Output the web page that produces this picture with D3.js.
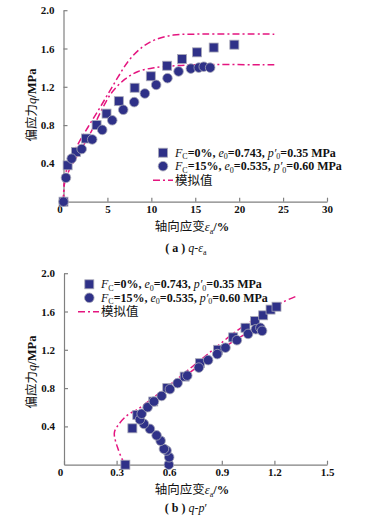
<!DOCTYPE html>
<html>
<head>
<meta charset="utf-8">
<title>q-εa and q-p′</title>
<style>
  body { margin: 0; background: #fff; }
  svg text { font-family: 'Liberation Serif', 'Times New Roman', serif; }
  .cjk { font-family: 'Noto Sans CJK SC', sans-serif; }
  .axis path, .axis line { stroke: #808080; stroke-width: 1.2; }
  .axis text { font-size: 11px; font-weight: bold; fill: #111; }
</style>
<script src="https://cdnjs.cloudflare.com/ajax/libs/d3/7.8.5/d3.min.js"></script>
</head>
<body>
<div id="chart"></div>
<script>
// (a) q - axial strain, test points [strain %, q MPa]
const strainFc0 = [[0,0],[0.47,0.38],[1.42,0.52],[2.56,0.66],[3.77,0.80],[4.9,0.92],[6.3,1.05],[8.1,1.19],[9.94,1.31],[11.8,1.42],[13.5,1.49],[15.2,1.56],[17.1,1.61],[19.45,1.64]];
const strainFc15 = [[0,0],[0.28,0.25],[0.93,0.45],[2.07,0.55],[3.27,0.65],[4.41,0.75],[5.55,0.85],[6.8,0.96],[8.05,1.04],[9.26,1.13],[10.55,1.22],[11.84,1.29],[13.1,1.36],[14.5,1.39],[15.4,1.40],[15.97,1.41],[16.7,1.40]];
const strainSim0 = [[0,0],[0.1,0.2],[0.5,0.38],[1.7,0.61],[2.8,0.78],[4.0,0.96],[5.1,1.13],[6.2,1.30],[7.4,1.47],[8.9,1.61],[10.4,1.69],[12.5,1.74],[15,1.75],[24,1.75]];
const strainSim15 = [[0,0],[0.1,0.18],[0.7,0.34],[2.1,0.56],[3.2,0.74],[4.3,0.95],[5.5,1.14],[7.0,1.28],[8.5,1.36],[10.4,1.40],[12.7,1.42],[15,1.43],[24,1.43]];

// (b) q - p', test points [p' MPa, q MPa]
const pathFc0 = [[0.35,0],[0.39,0.38],[0.418,0.52],[0.509,0.66],[0.589,0.80],[0.688,0.92],[0.775,1.06],[0.879,1.20],[0.965,1.33],[1.035,1.43],[1.09,1.50],[1.136,1.56],[1.178,1.62],[1.212,1.65]];
const pathFc15 = [[0.598,0],[0.60,0.078],[0.585,0.148],[0.57,0.165],[0.551,0.25],[0.528,0.306],[0.49,0.374],[0.456,0.426],[0.433,0.472],[0.443,0.532],[0.477,0.60],[0.513,0.66],[0.557,0.718],[0.604,0.789],[0.648,0.852],[0.703,0.93],[0.769,1.014],[0.822,1.092],[0.874,1.155],[0.921,1.222],[0.986,1.30],[1.05,1.366],[1.094,1.415],[1.12,1.43],[1.13,1.398]];
const pathSim0 = [[0.346,0],[0.31,0.155],[0.287,0.33],[0.304,0.40],[0.357,0.51],[0.433,0.595],[0.509,0.70],[0.585,0.807],[0.68,0.947],[0.775,1.088],[0.87,1.23],[0.965,1.37],[1.06,1.49],[1.155,1.60],[1.25,1.70],[1.335,1.767]];
const pathSim15 = [[0.60,0],[0.59,0.08],[0.56,0.2],[0.51,0.33],[0.465,0.43],[0.45,0.50],[0.47,0.57],[0.515,0.655],[0.58,0.765],[0.675,0.905],[0.775,1.04],[0.875,1.17],[0.975,1.30],[1.06,1.39],[1.125,1.44]];

const yTicks = [0.4, 0.8, 1.2, 1.6, 2.0];
const xTicksA = [0, 5, 10, 15, 20, 25, 30];
const xTicksB = [0, 0.3, 0.6, 0.9, 1.2, 1.5];

const pink = '#e4157f', navy = '#2f3188';

const svg = d3.select('#chart').append('svg')
  .attr('width', 374).attr('height', 520);

function panel(o) {
  const x = d3.scaleLinear().domain(o.xDomain).range([o.left, 327]);
  const y = d3.scaleLinear().domain([0, 2]).range([o.bottom, o.bottom - 191.5]);

  svg.append('g').attr('class', 'axis')
    .attr('transform', `translate(0,${o.bottom})`)
    .call(d3.axisBottom(x).tickValues(o.xTicks).tickSizeInner(-4).tickSizeOuter(0).tickPadding(4)
      .tickFormat(d => d === 0 ? '0' : (o.xTicks === xTicksB ? d3.format('.1f')(d) : d)))
    .call(g => g.selectAll('.tick').filter(d => d === 0).select('text').attr('dx', -4));

  svg.append('g').attr('class', 'axis')
    .attr('transform', `translate(${o.left},0)`)
    .call(d3.axisLeft(y).tickValues(yTicks).tickSizeInner(-4).tickSizeOuter(0).tickPadding(9)
      .tickFormat(d3.format('.1f')));

  const line = d3.line().x(d => x(d[0])).y(d => y(d[1])).curve(d3.curveCatmullRom.alpha(0.5));
  o.sims.forEach(s => {
    svg.append('path').attr('d', line(s))
      .attr('fill', 'none').attr('stroke', pink).attr('stroke-width', 1.5)
      .attr('stroke-dasharray', '7,3,2,3');
  });

  svg.append('g').selectAll('rect').data(o.squares).join('rect')
    .attr('x', d => x(d[0]) - 4.5).attr('y', d => y(d[1]) - 4.5)
    .attr('width', 9).attr('height', 9)
    .attr('fill', navy).attr('stroke', '#a8a8b8').attr('stroke-width', 0.8);

  svg.append('g').selectAll('circle').data(o.circles).join('circle')
    .attr('cx', d => x(d[0])).attr('cy', d => y(d[1])).attr('r', 4.8)
    .attr('fill', navy).attr('stroke', '#a8a8b8').attr('stroke-width', 0.8);

  // axis titles
  const yl = svg.append('text').attr('class', 'cjk')
    .attr('transform', `translate(36,${o.yLabelY}) rotate(-90)`)
    .attr('text-anchor', 'middle').attr('font-size', 12.5).attr('fill', '#111');
  yl.append('tspan').text('偏应力');
  yl.append('tspan').attr('font-style', 'italic').attr('font-family', 'Liberation Serif').text('q');
  yl.append('tspan').attr('font-family', 'Liberation Serif').attr('font-weight', 'bold').text('/MPa');

  const xl = svg.append('text').attr('class', 'cjk')
    .attr('x', 192).attr('y', o.xLabelY)
    .attr('text-anchor', 'middle').attr('font-size', 12.5).attr('fill', '#111');
  xl.append('tspan').text('轴向应变');
  xl.append('tspan').attr('font-style', 'italic').attr('font-family', 'Liberation Serif').text('ε');
  xl.append('tspan').attr('font-family', 'Liberation Serif').attr('font-size', 8).attr('dy', 3).text('a');
  xl.append('tspan').attr('font-family', 'Liberation Serif').attr('font-weight', 'bold').attr('dy', -3).text('/%');

  const cap = svg.append('text').attr('x', 186).attr('y', o.capY)
    .attr('text-anchor', 'middle').attr('font-size', 12).attr('fill', '#111');
  cap.append('tspan').attr('font-weight', 'bold').text('( ' + o.capTag + ' ) ');
  o.capParts(cap);

  // legend
  const L = o.legend;
  svg.append('rect').attr('x', L.x - 4.5).attr('y', L.y - 4.5).attr('width', 9).attr('height', 9)
    .attr('fill', navy).attr('stroke', '#a8a8b8').attr('stroke-width', 0.8);
  svg.append('circle').attr('cx', L.x).attr('cy', L.y + 13.5).attr('r', 4.8)
    .attr('fill', navy).attr('stroke', '#a8a8b8').attr('stroke-width', 0.8);
  svg.append('line').attr('x1', L.lineX1).attr('x2', L.tx - 2).attr('y1', L.y + 27.5).attr('y2', L.y + 27.5)
    .attr('stroke', pink).attr('stroke-width', 1.5).attr('stroke-dasharray', '7,3,2,3');

  [['0%', '0.743', '0.35'], ['15%', '0.535', '0.60']].forEach((v, i) => {
    const t = svg.append('text').attr('x', L.tx).attr('y', L.y + 4 + i * 13.5)
      .attr('font-size', 12).attr('font-weight', 'bold').attr('fill', '#111');
    t.append('tspan').attr('font-style', 'italic').attr('font-weight', 'normal').text('F');
    t.append('tspan').attr('font-size', 8).attr('font-weight', 'normal').attr('dy', 2.5).text('C');
    t.append('tspan').attr('dy', -2.5).text('=' + v[0] + ', ');
    t.append('tspan').attr('font-style', 'italic').attr('font-weight', 'normal').text('e');
    t.append('tspan').attr('font-size', 8).attr('font-weight', 'normal').attr('dy', 2.5).text('0');
    t.append('tspan').attr('dy', -2.5).text('=' + v[1] + ', ');
    t.append('tspan').attr('font-style', 'italic').attr('font-weight', 'normal').text('p′');
    t.append('tspan').attr('font-size', 8).attr('font-weight', 'normal').attr('dy', 2.5).text('0');
    t.append('tspan').attr('dy', -2.5).text('=' + v[2] + ' MPa');
  });
  svg.append('text').attr('class', 'cjk').attr('x', L.tx).attr('y', L.y + 32)
    .attr('font-size', 12.5).attr('fill', '#111').text('模拟值');
}

panel({
  xDomain: [0, 30], left: 63.5, bottom: 201.7, xTicks: xTicksA,
  squares: strainFc0, circles: strainFc15, sims: [strainSim0, strainSim15],
  yLabelY: 105, xLabelY: 231, capY: 252, capTag: 'a',
  capParts: t => {
    t.append('tspan').attr('font-style', 'italic').text('q');
    t.append('tspan').text('-');
    t.append('tspan').attr('font-style', 'italic').text('ε');
    t.append('tspan').attr('font-size', 8).attr('dy', 3).text('a');
  },
  legend: { x: 163, y: 152.7, tx: 175, lineX1: 153 }
});

panel({
  xDomain: [0, 1.5], left: 64, bottom: 464.7, xTicks: xTicksB,
  squares: pathFc0, circles: pathFc15, sims: [pathSim0, pathSim15],
  yLabelY: 372, xLabelY: 494, capY: 512, capTag: 'b',
  capParts: t => {
    t.append('tspan').attr('font-style', 'italic').text('q');
    t.append('tspan').text('-');
    t.append('tspan').attr('font-style', 'italic').text('p');
    t.append('tspan').text('′');
  },
  legend: { x: 89.3, y: 284.3, tx: 101, lineX1: 78 }
});
</script>
</body>
</html>
